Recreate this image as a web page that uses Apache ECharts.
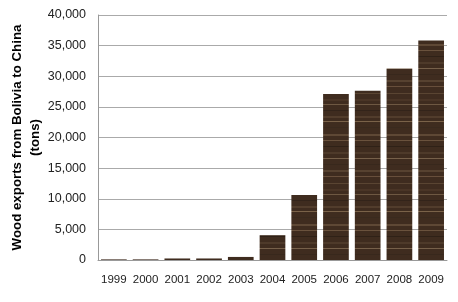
<!DOCTYPE html>
<html>
<head>
<meta charset="utf-8">
<script src="https://cdn.jsdelivr.net/npm/echarts@6/dist/echarts.min.js"></script>
<style>
html,body{margin:0;padding:0;background:#fff;}
#c{width:458px;height:302px;}
</style>
</head>
<body>
<div id="c"></div>
<script>
const years = ['1999','2000','2001','2002','2003','2004','2005','2006','2007','2008','2009'];
const exportsTons = [100, 100, 250, 250, 500, 4050, 10600, 27100, 27650, 31250, 35850];
const yTicks = [0, 5000, 10000, 15000, 20000, 25000, 30000, 35000, 40000];
const yTitle = 'Wood exports from Bolivia to China\n(tons)';

// wood-grain texture pattern
function woodPattern() {
  const c = document.createElement('canvas');
  c.width = 40; c.height = 90;
  const g = c.getContext('2d');
  g.fillStyle = '#3f2c1f';
  g.fillRect(0, 0, 40, 90);
  const stripes = [
    [3, 1, '#5a4532'], [9, 2, '#4a3526'], [14, 1, '#6e5842'], [20, 1, '#33241a'],
    [26, 2, '#523d2c'], [31, 1, '#7a6249'], [37, 1, '#3a2a1e'], [44, 2, '#5e4835'],
    [50, 1, '#6a523d'], [56, 1, '#2f2117'], [62, 2, '#4e3a2a'], [68, 1, '#76604a'],
    [74, 1, '#38281c'], [80, 2, '#574230'], [86, 1, '#684f3b']
  ];
  stripes.forEach(([y, h, col]) => { g.fillStyle = col; g.fillRect(0, y, 40, h); });
  return c;
}

const chart = echarts.init(document.getElementById('c'), null, {renderer: 'canvas'});
chart.setOption({
  animation: false,
  grid: {left: 98, right: 11, top: 15, bottom: 42, containLabel: false, outerBoundsMode: 'none'},
  xAxis: {
    type: 'category',
    data: years,
    axisLine: {lineStyle: {color: '#999', width: 1}},
    axisTick: {show: false},
    axisLabel: {interval: 0, color: '#222', fontSize: 11.5, fontFamily: 'Liberation Sans, Arial', margin: 14}
  },
  yAxis: {
    type: 'value',
    min: yTicks[0],
    max: yTicks[yTicks.length - 1],
    interval: yTicks[1] - yTicks[0],
    name: yTitle,
    nameLocation: 'middle',
    nameGap: 54,
    nameMoveOverlap: false,
    nameTextStyle: {color: '#000', fontSize: 13.3, fontWeight: 'bold', fontFamily: 'Liberation Sans, Arial', lineHeight: 18, align: 'center'},
    axisLine: {show: true, lineStyle: {color: '#999', width: 1}},
    axisTick: {show: false},
    axisLabel: {
      color: '#222', fontSize: 12.5, fontFamily: 'Liberation Sans, Arial', margin: 12,
      formatter: v => v.toLocaleString('en-US')
    },
    splitLine: {lineStyle: {color: '#aaa', width: 1}}
  },
  series: [{
    type: 'bar',
    data: exportsTons,
    barCategoryGap: '19%',
    itemStyle: {color: {image: woodPattern(), repeat: 'repeat'}}
  }]
});
</script>
</body>
</html>
